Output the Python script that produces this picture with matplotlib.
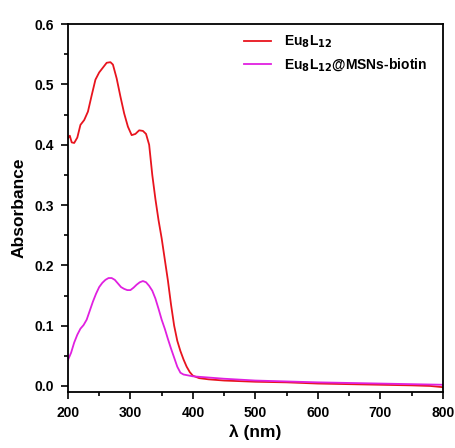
import numpy as np
import matplotlib
matplotlib.use("Agg")
import matplotlib.pyplot as plt
from matplotlib.ticker import MultipleLocator

plt.rcParams['font.family'] = ['Liberation Sans', 'DejaVu Sans']
plt.rcParams['font.weight'] = 'bold'
plt.rcParams['mathtext.default'] = 'bf'

# Eu8L12 spectrum
wl_red = [200, 203, 206, 210, 215, 220, 226, 232, 238, 244, 250, 256, 262, 268,
          272, 278, 284, 290, 296, 302, 308, 314, 320, 325, 330, 335, 340, 345,
          350, 355, 360, 365, 370, 375, 380, 385, 390, 395, 400, 410, 425, 450,
          500, 550, 600, 650, 700, 750, 780, 800]
abs_red = [0.411, 0.415, 0.404, 0.403, 0.412, 0.433, 0.441, 0.455, 0.482, 0.508,
           0.520, 0.528, 0.536, 0.537, 0.533, 0.510, 0.480, 0.452, 0.430, 0.416,
           0.418, 0.424, 0.423, 0.418, 0.400, 0.350, 0.310, 0.275, 0.245, 0.210,
           0.175, 0.135, 0.100, 0.075, 0.058, 0.044, 0.032, 0.023, 0.017, 0.013,
           0.011, 0.009, 0.007, 0.006, 0.004, 0.003, 0.002, 0.001, 0.000, -0.002]

# Eu8L12@MSNs-biotin spectrum
wl_mag = [200, 205, 210, 215, 220, 225, 230, 235, 240, 245, 250, 255, 260, 265,
          270, 275, 280, 285, 290, 295, 300, 305, 310, 315, 320, 325, 330, 335,
          340, 345, 350, 355, 360, 365, 370, 375, 380, 385, 390, 400, 450, 500,
          600, 700, 800]
abs_mag = [0.043, 0.055, 0.072, 0.085, 0.095, 0.101, 0.110, 0.125, 0.140, 0.153,
           0.164, 0.171, 0.176, 0.179, 0.179, 0.176, 0.170, 0.164, 0.161, 0.159,
           0.159, 0.163, 0.168, 0.172, 0.174, 0.172, 0.166, 0.158, 0.145, 0.128,
           0.110, 0.095, 0.078, 0.062, 0.047, 0.032, 0.022, 0.019, 0.018, 0.016,
           0.012, 0.009, 0.006, 0.004, 0.002]

labels = ['Eu$_8$L$_{12}$', 'Eu$_8$L$_{12}$@MSNs-biotin']

fig = plt.figure(figsize=(4.56, 4.48), dpi=100)
ax = fig.add_axes([0.149, 0.125, 0.822, 0.821])

ax.plot(wl_red, abs_red, color='#e8141e', lw=1.3, label=labels[0])
ax.plot(wl_mag, abs_mag, color='#e020e0', lw=1.3, label=labels[1])

ax.set_xlim(200, 800)
ax.set_ylim(-0.01, 0.6)
ax.xaxis.set_major_locator(MultipleLocator(100))
ax.xaxis.set_minor_locator(MultipleLocator(50))
ax.yaxis.set_major_locator(MultipleLocator(0.1))
ax.yaxis.set_minor_locator(MultipleLocator(0.05))
ax.yaxis.set_major_formatter(matplotlib.ticker.FormatStrFormatter('%.1f'))
ax.tick_params(which='major', direction='out', length=5, width=1.2,
               labelsize=10, pad=5)
ax.tick_params(which='minor', direction='out', length=3, width=1.2)
for s in ax.spines.values():
    s.set_linewidth(1.3)

ax.set_xlabel('λ (nm)', fontsize=12.5, fontweight='bold', labelpad=3)
ax.set_ylabel('Absorbance', fontsize=12.5, fontweight='bold', labelpad=6)

ax.legend(loc='upper left', bbox_to_anchor=(0.47, 0.975), frameon=False,
          fontsize=10, handlelength=1.9, handletextpad=1.0, labelspacing=0.45,
          borderpad=0, borderaxespad=0)

fig.savefig('out.png', dpi=100)
